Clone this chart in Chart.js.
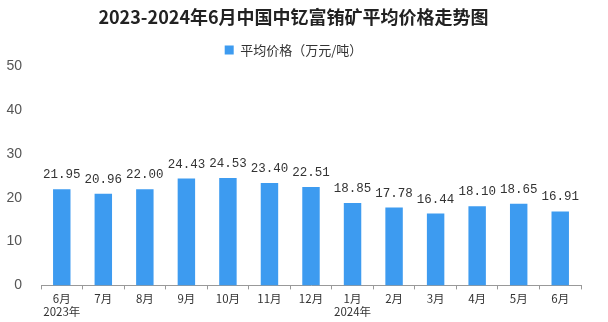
<!DOCTYPE html>
<html>
<head>
<meta charset="utf-8">
<script src="https://cdn.jsdelivr.net/npm/chart.js@4/dist/chart.umd.min.js"></script>
<style>
  html, body { margin: 0; padding: 0; background: #fff; }
  #wrap { width: 608px; height: 322px; }
</style>
</head>
<body>
<div id="wrap"><canvas id="c" width="608" height="322"></canvas></div>
<script>
// Chart data.
const months = [['6月', '2023年'], '7月', '8月', '9月', '10月', '11月', '12月',
  ['1月', '2024年'], '2月', '3月', '4月', '5月', '6月'];
const avgPrice = [21.95, 20.96, 22.00, 24.43, 24.53, 23.40, 22.51,
  18.85, 17.78, 16.44, 18.10, 18.65, 16.91];
const yTicks = [0, 10, 20, 30, 40, 50];

const barColor = '#3d9bf0';

// Draw value labels above each bar.
const valueLabels = {
  id: 'valueLabels',
  afterDatasetsDraw(chart) {
    const ctx = chart.ctx;
    const meta = chart.getDatasetMeta(0);
    ctx.save();
    ctx.font = '12.5px "Liberation Mono", "DejaVu Sans Mono", monospace';
    ctx.fillStyle = '#333';
    ctx.textAlign = 'center';
    ctx.textBaseline = 'bottom';
    meta.data.forEach((bar, i) => {
      ctx.fillText(avgPrice[i].toFixed(2), bar.x, bar.y - 8);
    });
    ctx.restore();
  },
};

new Chart(document.getElementById('c'), {
  type: 'bar',
  data: {
    labels: months,
    datasets: [{
      label: '平均价格（万元/吨）',
      data: avgPrice,
      backgroundColor: barColor,
      borderColor: barColor,
      categoryPercentage: 0.84,
      barPercentage: 0.5,
    }],
  },
  options: {
    responsive: false,
    animation: false,
    layout: {padding: {left: 6, right: 27, top: 6, bottom: 1}},
    plugins: {
      title: {
        display: true,
        text: '2023-2024年6月中国中钇富铕矿平均价格走势图',
        color: '#222',
        font: {family: '"Noto Sans CJK SC", sans-serif', size: 18, weight: 'bold'},
        padding: {top: 0, bottom: 4},
      },
      legend: {
        display: true,
        labels: {
          boxWidth: 9,
          boxHeight: 9,
          color: '#333',
          font: {family: '"Noto Sans CJK SC", sans-serif', size: 13},
          padding: 12,
        },
      },
      tooltip: {enabled: false},
    },
    scales: {
      x: {
        grid: {
          display: true,
          drawOnChartArea: false,
          drawTicks: true,
          tickLength: 4,
          color: '#999',
          offset: true,
        },
        border: {display: true, color: '#999'},
        ticks: {
          color: '#333',
          font: {family: '"Noto Sans CJK SC", sans-serif', size: 11.5},
          maxRotation: 0,
          padding: 2,
        },
      },
      y: {
        min: 0,
        max: 50,
        afterBuildTicks(axis) {
          axis.ticks = yTicks.map((v) => ({value: v}));
        },
        afterFit(axis) {
          axis.width = 35;
        },
        grid: {display: false},
        border: {display: false},
        ticks: {
          color: '#555',
          font: {family: '"Liberation Sans", sans-serif', size: 14},
          padding: 11,
        },
      },
    },
  },
  plugins: [valueLabels],
});
</script>
</body>
</html>
